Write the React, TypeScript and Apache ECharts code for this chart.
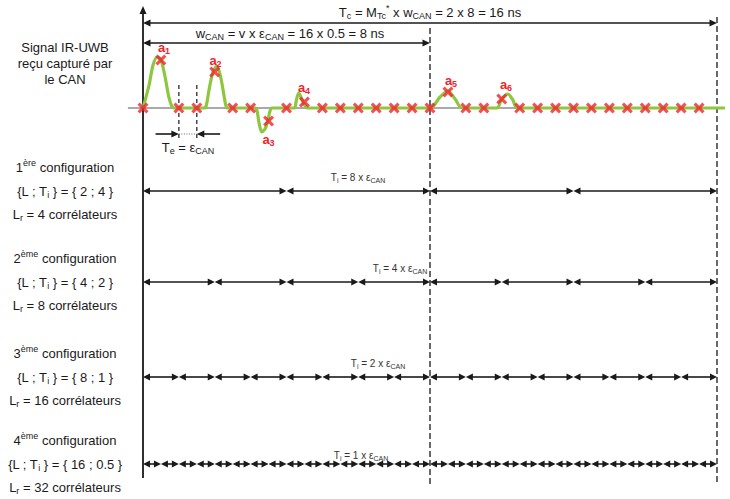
import React, { useEffect, useRef } from 'react';
import * as echarts from 'echarts';

// ---------------- data ----------------
const EPS_CAN = 0.5; // ns, sampling period of the ADC
const V_SAMPLES = 16;
const W_CAN = 8; // ns
const M_TC = 2;
const TC = 16; // ns

// amplitude of every ADC sample (k = 0..31, t = k * EPS_CAN)
const sampleAmplitudes = [
  0, 0.96, 0, 0, 0.72, 0, 0, -0.26, 0, 0.12, 0, 0, 0, 0, 0, 0,
  0, 0.32, 0, 0, 0.18, 0, 0, 0, 0, 0, 0, 0, 0, 0, 0, 0,
];
const pulseSampleIndex = [1, 4, 7, 9, 17, 20];
const pulseNames = ['1', '2', '3', '4', '5', '6'];

// received IR-UWB waveform (time in ns, normalised amplitude)
const waveTimes = [
  0, 0.17, 0.28, 0.4, 0.5, 0.61, 0.72, 0.8, 0.86, 1.2, 1.7, 1.76, 1.84, 1.95, 2.06, 2.17,
  2.26, 2.31, 2.36, 2.8, 3.13, 3.18, 3.23, 3.31, 3.4, 3.48, 3.54, 3.6, 4.0, 4.22, 4.27, 4.34,
  4.46, 4.54, 4.6, 6.0, 8.0, 8.28, 8.5, 8.7, 8.89, 9.4, 9.86, 10.0, 10.17, 10.31, 10.43, 13.0, 16.22,
];
const waveAmps = [
  0, 0.46, 0.86, 1.02, 0.96, 0.64, 0.22, 0.04, 0, 0, 0, 0.04, 0.36, 0.72, 0.84, 0.6,
  0.24, 0.05, 0, 0, 0, -0.06, -0.28, -0.48, -0.42, -0.26, -0.06, 0, 0, 0, 0.14, 0.3,
  0.12, 0.02, 0, 0, 0, 0.22, 0.34, 0.18, 0, 0, 0, 0.18, 0.28, 0.16, 0, 0, 0,
];

// correlator configurations
const configOrdinals = ['1', '2', '3', '4'];
const configSuffix = ['ère', 'ème', 'ème', 'ème'];
const configL = [2, 4, 8, 16];
const configTi = [4, 2, 1, 0.5]; // ns
const configLr = [4, 8, 16, 32];
const configTiFactor = [8, 4, 2, 1];

// ---------------- layout ----------------
const W = 730;
const H = 499;
const X_PX0 = 143;
const PX_PER_NS = 35.875;
const XMIN = -X_PX0 / PX_PER_NS;
const XMAX = (W - X_PX0) / PX_PER_NS;
const rowY = [191, 282, 377, 464];
const tiLabelX = [358, 400, 378, 361];
const tiLabelDy = [-14, -14, -14, -9];
const pulseLabelPos = [
  [164, 47],
  [215.5, 60],
  [268.5, 139],
  [304, 87],
  [451, 80],
  [506, 84],
];
const LABEL_X = 65;
const FONT = '"Liberation Sans", Arial, Helvetica, sans-serif';
const INK = '#1a1a1a';
const RED = '#f0232a';
const GREEN = '#8dc63f';

type Shape = {
  t0: number; y0: number; t1: number; y1: number;
  kind: 'arrow' | 'line';
  h0?: boolean; h1?: boolean; L?: number; Wd?: number;
  lw: number; color: string; dash?: number[];
};

const shapes: Shape[] = [];
// vertical axis
shapes.push({ t0: 0, y0: 478, t1: 0, y1: 6, kind: 'arrow', h1: true, L: 8, Wd: 3.5, lw: 1.8, color: INK });
// Tc and wCAN spans
shapes.push({ t0: 0, y0: 23, t1: TC, y1: 23, kind: 'arrow', h0: true, h1: true, L: 7.5, Wd: 3.6, lw: 1.6, color: INK });
shapes.push({ t0: 0, y0: 43, t1: W_CAN, y1: 43, kind: 'arrow', h0: true, h1: true, L: 7.5, Wd: 3.6, lw: 1.6, color: INK });
// long dashed limits
shapes.push({ t0: W_CAN, y0: 28, t1: W_CAN, y1: 485, kind: 'line', lw: 1.3, color: INK, dash: [6, 3] });
shapes.push({ t0: TC, y0: 17, t1: TC, y1: 485, kind: 'line', lw: 1.3, color: INK, dash: [6, 3] });
// Te markers
const TE_A = 2 * EPS_CAN;
const TE_B = 3 * EPS_CAN;
const TE_TAIL = 0.65;
shapes.push({ t0: TE_A, y0: 85, t1: TE_A, y1: 138, kind: 'line', lw: 1.2, color: INK, dash: [4, 3] });
shapes.push({ t0: TE_B, y0: 85, t1: TE_B, y1: 138, kind: 'line', lw: 1.2, color: INK, dash: [4, 3] });
shapes.push({ t0: TE_A - TE_TAIL, y0: 134, t1: TE_A, y1: 134, kind: 'arrow', h1: true, L: 7.5, Wd: 3.6, lw: 1.6, color: INK });
shapes.push({ t0: TE_B + TE_TAIL, y0: 134, t1: TE_B, y1: 134, kind: 'arrow', h1: true, L: 7.5, Wd: 3.6, lw: 1.6, color: INK });
shapes.push({ t0: TE_A, y0: 134, t1: TE_B, y1: 134, kind: 'line', lw: 1, color: '#666', dash: [1, 1.5] });
// configuration rows
configTi.forEach((ti, i) => {
  const n = Math.round(TC / ti);
  for (let j = 0; j < n; j++) {
    shapes.push({
      t0: j * ti, y0: rowY[i], t1: (j + 1) * ti, y1: rowY[i], kind: 'arrow',
      h0: true, h1: true, L: 7, Wd: 3.6, lw: 1.6, color: INK,
    });
  }
});

const richFor = (size: number, color: string, weight = 'normal') => {
  const sub = Math.round(size * 0.7);
  const pad = Math.round(size * 0.62);
  const f = `${weight} ${sub}px ${FONT}`;
  return {
    s: { font: f, fontSize: sub, fontFamily: FONT, fontWeight: weight, fill: color, color, padding: [pad, 0, 0, 0] },
    p: { font: f, fontSize: sub, fontFamily: FONT, fontWeight: weight, fill: color, color, padding: [0, 0, pad, 0] },
  };
};

const txt = (x: number, y: number, text: string, size = 13, color = INK, weight = 'normal') => ({
  type: 'text',
  x,
  y,
  z: 100,
  style: {
    text,
    font: `${weight} ${size}px ${FONT}`,
    fontSize: size,
    fontFamily: FONT,
    fontWeight: weight,
    fill: color,
    align: 'center',
    verticalAlign: 'middle',
    textAlign: 'center',
    textVerticalAlign: 'middle',
    rich: richFor(size, color, weight),
  },
});

function buildOption() {
  const graphic: any[] = [
    txt(430, 12, `T{s|c} = M{s|Tc}{p|*} x w{s|CAN} = ${M_TC} x ${W_CAN} = ${TC} ns`),
    txt(290, 33, `w{s|CAN} = v x ε{s|CAN} = ${V_SAMPLES} x ${EPS_CAN} = ${W_CAN} ns`),
    txt(188, 147, `T{s|e} = ε{s|CAN}`),
    txt(LABEL_X, 47, 'Signal IR-UWB'),
    txt(LABEL_X, 63, 'reçu capturé par'),
    txt(LABEL_X, 79, 'le CAN'),
  ];
  configL.forEach((L, i) => {
    graphic.push(txt(LABEL_X, rowY[i] - 24, `${configOrdinals[i]}{p|${configSuffix[i]}} configuration`));
    graphic.push(txt(LABEL_X, rowY[i], `{L ; T{s|i} } = { ${L} ; ${configTi[i]} }`));
    graphic.push(txt(LABEL_X, rowY[i] + 23, `L{s|r} = ${configLr[i]} corrélateurs`));
    graphic.push(txt(tiLabelX[i], rowY[i] + tiLabelDy[i], `T{s|i} = ${configTiFactor[i]} x ε{s|CAN}`, 10, '#333'));
  });
  pulseNames.forEach((nm, i) => {
    graphic.push(txt(pulseLabelPos[i][0], pulseLabelPos[i][1], `a{s|${nm}}`, 13, RED, 'bold'));
  });

  const sampleData = sampleAmplitudes.map((a, k) => [k * EPS_CAN, a]);

  return {
    animation: false,
    backgroundColor: '#ffffff',
    grid: [
      { left: 0, right: 0, top: 48, height: 90 },
      { left: 0, right: 0, top: 0, height: H },
    ],
    xAxis: [
      { type: 'value', gridIndex: 0, min: XMIN, max: XMAX, show: false },
      { type: 'value', gridIndex: 1, min: XMIN, max: XMAX, show: false },
    ],
    yAxis: [
      { type: 'value', gridIndex: 0, min: -0.6, max: 1.2, show: false },
      { type: 'value', gridIndex: 1, min: 0, max: H, inverse: true, show: false },
    ],
    graphic,
    series: [
      {
        type: 'custom',
        xAxisIndex: 1,
        yAxisIndex: 1,
        z: 1,
        silent: true,
        encode: { x: [0, 2], y: [1, 3] },
        data: shapes.map((s) => [s.t0, s.y0, s.t1, s.y1]),
        renderItem: (params: any, api: any) => {
          const s = shapes[params.dataIndex];
          const p0 = api.coord([api.value(0), api.value(1)]);
          const p1 = api.coord([api.value(2), api.value(3)]);
          const dx = p1[0] - p0[0];
          const dy = p1[1] - p0[1];
          const len = Math.hypot(dx, dy) || 1;
          const ux = dx / len;
          const uy = dy / len;
          const nx = -uy;
          const ny = ux;
          const children: any[] = [];
          if (s.kind === 'line') {
            children.push({
              type: 'line',
              shape: { x1: p0[0], y1: p0[1], x2: p1[0], y2: p1[1] },
              style: { stroke: s.color, lineWidth: s.lw, lineDash: s.dash },
            });
          } else {
            const L = s.L || 7;
            const Wd = s.Wd || 3.5;
            const a = s.h0 ? [p0[0] + ux * L * 0.7, p0[1] + uy * L * 0.7] : p0;
            const b = s.h1 ? [p1[0] - ux * L * 0.7, p1[1] - uy * L * 0.7] : p1;
            children.push({
              type: 'line',
              shape: { x1: a[0], y1: a[1], x2: b[0], y2: b[1] },
              style: { stroke: s.color, lineWidth: s.lw },
            });
            if (s.h0) {
              children.push({
                type: 'polygon',
                shape: {
                  points: [
                    [p0[0], p0[1]],
                    [p0[0] + ux * L + nx * Wd, p0[1] + uy * L + ny * Wd],
                    [p0[0] + ux * L - nx * Wd, p0[1] + uy * L - ny * Wd],
                  ],
                },
                style: { fill: s.color },
              });
            }
            if (s.h1) {
              children.push({
                type: 'polygon',
                shape: {
                  points: [
                    [p1[0], p1[1]],
                    [p1[0] - ux * L + nx * Wd, p1[1] - uy * L + ny * Wd],
                    [p1[0] - ux * L - nx * Wd, p1[1] - uy * L - ny * Wd],
                  ],
                },
                style: { fill: s.color },
              });
            }
          }
          return { type: 'group', children };
        },
      },
      {
        type: 'line',
        xAxisIndex: 0,
        yAxisIndex: 0,
        z: 3,
        silent: true,
        symbol: 'none',
        data: [[-0.42, 0], [16.22, 0]],
        lineStyle: { color: '#555', width: 1 },
      },
      {
        type: 'line',
        xAxisIndex: 0,
        yAxisIndex: 0,
        z: 4,
        silent: true,
        symbol: 'none',
        smooth: 0.3,
        data: waveTimes.map((t, i) => [t, waveAmps[i]]),
        lineStyle: { color: GREEN, width: 3.2 },
      },
      {
        type: 'scatter',
        xAxisIndex: 0,
        yAxisIndex: 0,
        z: 5,
        silent: true,
        symbol: 'path://M2,0L5,3L8,0L10,2L7,5L10,8L8,10L5,7L2,10L0,8L3,5L0,2Z',
        symbolSize: 11,
        itemStyle: { color: RED },
        data: sampleData,
      },
    ],
  };
}

export default function App() {
  const ref = useRef<HTMLDivElement>(null);
  useEffect(() => {
    if (!ref.current) return;
    const chart = echarts.init(ref.current, null, { renderer: 'svg' });
    chart.setOption(buildOption() as any);
    return () => chart.dispose();
  }, []);
  return (
    <div
      ref={ref}
      style={{ position: 'fixed', left: 0, top: 0, width: W, height: H, background: '#fff' }}
    />
  );
}
